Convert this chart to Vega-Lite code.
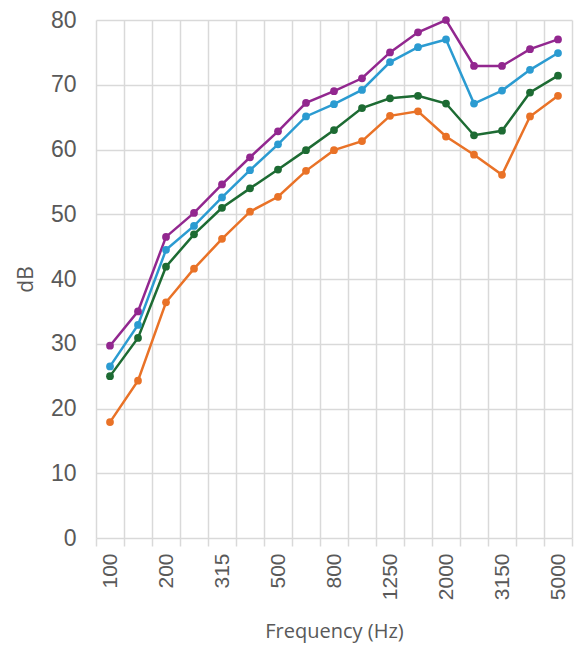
{
  "$schema": "https://vega.github.io/schema/vega-lite/v6.json",
  "width": 476,
  "height": 518,
  "autosize": "none",
  "padding": {"left": 96, "top": 20, "right": 9, "bottom": 113},
  "background": "white",
  "config": {"view": {"stroke": null}, "font": "Liberation Sans"},
  "datasets": {
    "d": [
      {"f": "100", "s": "A", "v": 29.7}, {"f": "100", "s": "B", "v": 26.5}, {"f": "100", "s": "C", "v": 25.0}, {"f": "100", "s": "D", "v": 17.9},
      {"f": "160", "s": "A", "v": 35.0}, {"f": "160", "s": "B", "v": 32.9}, {"f": "160", "s": "C", "v": 30.9}, {"f": "160", "s": "D", "v": 24.3},
      {"f": "200", "s": "A", "v": 46.5}, {"f": "200", "s": "B", "v": 44.5}, {"f": "200", "s": "C", "v": 41.9}, {"f": "200", "s": "D", "v": 36.4},
      {"f": "250", "s": "A", "v": 50.2}, {"f": "250", "s": "B", "v": 48.2}, {"f": "250", "s": "C", "v": 46.9}, {"f": "250", "s": "D", "v": 41.6},
      {"f": "315", "s": "A", "v": 54.6}, {"f": "315", "s": "B", "v": 52.6}, {"f": "315", "s": "C", "v": 51.0}, {"f": "315", "s": "D", "v": 46.2},
      {"f": "400", "s": "A", "v": 58.8}, {"f": "400", "s": "B", "v": 56.8}, {"f": "400", "s": "C", "v": 54.0}, {"f": "400", "s": "D", "v": 50.4},
      {"f": "500", "s": "A", "v": 62.8}, {"f": "500", "s": "B", "v": 60.8}, {"f": "500", "s": "C", "v": 56.9}, {"f": "500", "s": "D", "v": 52.7},
      {"f": "630", "s": "A", "v": 67.2}, {"f": "630", "s": "B", "v": 65.1}, {"f": "630", "s": "C", "v": 59.9}, {"f": "630", "s": "D", "v": 56.7},
      {"f": "800", "s": "A", "v": 69.0}, {"f": "800", "s": "B", "v": 67.0}, {"f": "800", "s": "C", "v": 63.0}, {"f": "800", "s": "D", "v": 59.9},
      {"f": "1000", "s": "A", "v": 71.0}, {"f": "1000", "s": "B", "v": 69.2}, {"f": "1000", "s": "C", "v": 66.4}, {"f": "1000", "s": "D", "v": 61.3},
      {"f": "1250", "s": "A", "v": 75.0}, {"f": "1250", "s": "B", "v": 73.5}, {"f": "1250", "s": "C", "v": 67.9}, {"f": "1250", "s": "D", "v": 65.2},
      {"f": "1600", "s": "A", "v": 78.1}, {"f": "1600", "s": "B", "v": 75.8}, {"f": "1600", "s": "C", "v": 68.3}, {"f": "1600", "s": "D", "v": 65.9},
      {"f": "2000", "s": "A", "v": 80.0}, {"f": "2000", "s": "B", "v": 77.0}, {"f": "2000", "s": "C", "v": 67.1}, {"f": "2000", "s": "D", "v": 62.0},
      {"f": "2500", "s": "A", "v": 72.9}, {"f": "2500", "s": "B", "v": 67.1}, {"f": "2500", "s": "C", "v": 62.2}, {"f": "2500", "s": "D", "v": 59.2},
      {"f": "3150", "s": "A", "v": 72.9}, {"f": "3150", "s": "B", "v": 69.1}, {"f": "3150", "s": "C", "v": 62.9}, {"f": "3150", "s": "D", "v": 56.1},
      {"f": "4000", "s": "A", "v": 75.5}, {"f": "4000", "s": "B", "v": 72.3}, {"f": "4000", "s": "C", "v": 68.8}, {"f": "4000", "s": "D", "v": 65.1},
      {"f": "5000", "s": "A", "v": 77.0}, {"f": "5000", "s": "B", "v": 74.9}, {"f": "5000", "s": "C", "v": 71.4}, {"f": "5000", "s": "D", "v": 68.3}
    ]
  },
  "data": {"name": "d"},
  "encoding": {
    "x": {
      "field": "f", "type": "ordinal",
      "sort": ["100","160","200","250","315","400","500","630","800","1000","1250","1600","2000","2500","3150","4000","5000"],
      "scale": {"paddingInner": 0, "paddingOuter": 0},
      "axis": {
        "title": "Frequency (Hz)",
        "titleFont": "Open Sans", "titleFontSize": 20, "titleFontWeight": "normal", "titleColor": "#595959", "titlePadding": 22,
        "labelFont": "Liberation Sans", "labelFontSize": 21, "labelColor": "#595959", "labelAngle": -90, "labelPadding": 7,
        "labelExpr": "indexof(['100','200','315','500','800','1250','2000','3150','5000'], datum.label) >= 0 ? datum.label : ''",
        "tickBand": "extent", "tickSize": 8, "tickColor": "#d9d9d9", "tickWidth": 1.5,
        "grid": true, "gridColor": "#d9d9d9", "gridWidth": 1.5,
        "domain": false
      }
    },
    "y": {
      "field": "v", "type": "quantitative",
      "scale": {"domain": [0, 80], "nice": false},
      "axis": {
        "title": "dB", "values": [0,10,20,30,40,50,60,70,80],
        "titleFont": "Open Sans", "titleFontSize": 21, "titleFontWeight": "normal", "titleColor": "#595959", "titlePadding": 14,
        "labelFont": "Liberation Sans", "labelFontSize": 23, "labelColor": "#595959", "labelPadding": 20,
        "ticks": false, "domain": false,
        "gridColor": "#d9d9d9", "gridWidth": 1.5
      }
    },
    "color": {
      "field": "s", "type": "nominal",
      "scale": {"domain": ["A","B","C","D"], "range": ["#92278f", "#2b9bd1", "#1d6b33", "#e97227"]},
      "legend": null
    }
  },
  "layer": [
    {"mark": {"type": "line", "strokeWidth": 2.5}},
    {"mark": {"type": "circle", "size": 60, "opacity": 1}}
  ]
}
